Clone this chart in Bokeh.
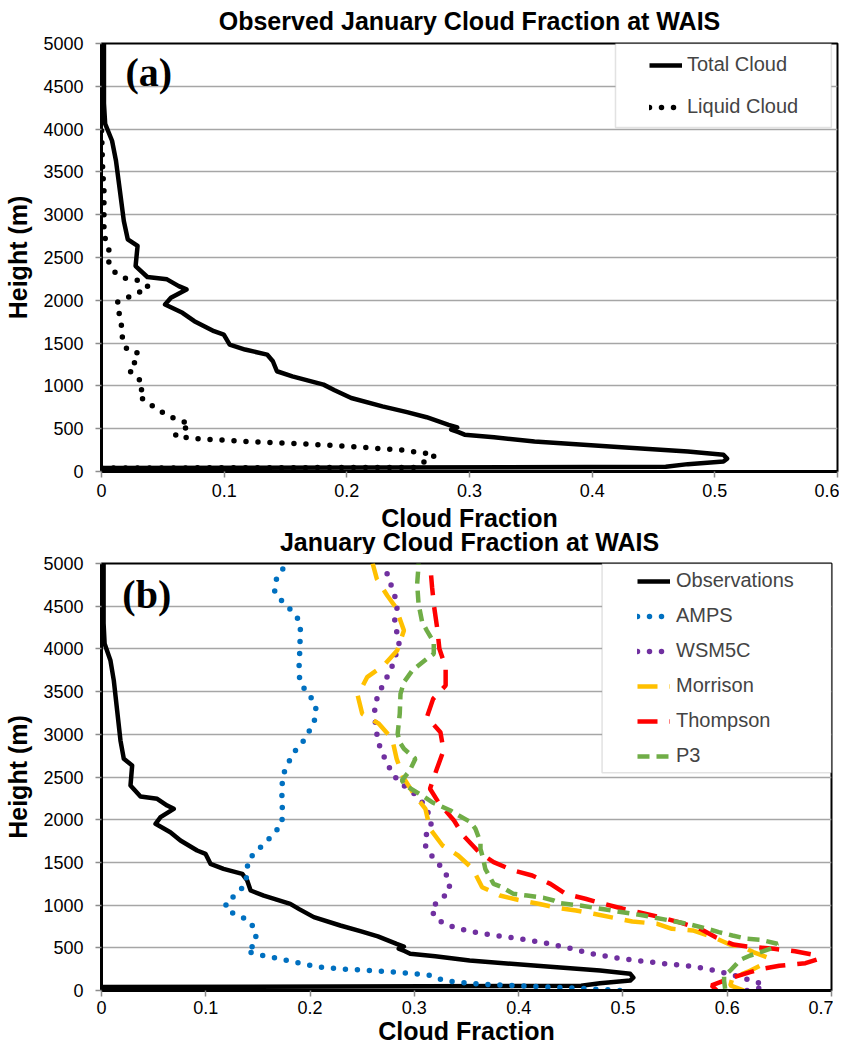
from bokeh.plotting import figure
from bokeh.layouts import column
from bokeh.models import (FixedTicker, Label, BoxAnnotation, CustomJSTickFormatter,
                          Legend, LegendItem, Title)
from bokeh.embed import file_html
from bokeh.resources import INLINE

# ---------------- data ----------------
title_a = "Observed January Cloud Fraction at WAIS"
title_b = "January Cloud Fraction at WAIS"
x_ticks_a = [0, 0.1, 0.2, 0.3, 0.4, 0.5, 0.6]
x_ticks_b = [0, 0.1, 0.2, 0.3, 0.4, 0.5, 0.6, 0.7]
y_ticks = [0, 500, 1000, 1500, 2000, 2500, 3000, 3500, 4000, 4500, 5000]

obs_h = [40, 55, 86, 117, 150, 195, 234, 293, 351, 400, 430, 460, 490, 515, 545,
         634, 693, 761, 859, 950, 1015, 1112, 1171, 1288, 1366, 1425, 1483, 1600,
         1639, 1756, 1854, 1952, 2030, 2127, 2166, 2245, 2272, 2400, 2635, 2713,
         2927, 3279, 3630, 3864, 4060, 4300, 4600, 5000]
obs_cf = [0.0, 0.46, 0.478, 0.507, 0.51, 0.507, 0.478, 0.4145, 0.353, 0.32, 0.296,
          0.291, 0.285, 0.29, 0.283, 0.265, 0.249, 0.229, 0.2036, 0.19, 0.181,
          0.1556, 0.143, 0.1397, 0.135, 0.117, 0.1045, 0.0997, 0.0917, 0.0757,
          0.066, 0.0518, 0.0566, 0.0693, 0.063, 0.0534, 0.0374, 0.0278, 0.0294,
          0.0214, 0.0182, 0.015, 0.0118, 0.0086, 0.003, 0.002, 0.002, 0.002]

liq_h = [40, 48, 100, 128, 199, 214, 250, 305, 350, 385, 395, 420, 500, 557, 604, 654,
         732, 810, 888, 1005, 1094, 1188, 1297, 1382, 1421, 1539, 1647, 1764, 1880,
         1978, 2036, 2095, 2153, 2231, 2258, 2328, 2445, 2601, 2722, 2854, 3300,
         3500, 4000, 5000]
liq_cf = [0.0, 0.255, 0.26, 0.268, 0.272, 0.263, 0.245, 0.19, 0.12, 0.075, 0.07, 0.06,
          0.068, 0.072, 0.062, 0.054, 0.045, 0.037, 0.030, 0.0345, 0.0296, 0.022,
          0.0285, 0.030, 0.021, 0.017, 0.017, 0.0155, 0.014, 0.0128, 0.022, 0.031,
          0.0386, 0.030, 0.0196, 0.011, 0.006, 0.006, 0.003, 0.002, 0.002, 0.001,
          0.0, 0.0]

amps_h = [0, 25, 39, 55, 67, 86, 117, 176, 203, 226, 250, 273, 301, 332, 359, 390,
          418, 460, 547, 691, 812, 878, 937, 1034, 1121, 1230, 1374, 1514, 1628,
          1729, 1835, 1952, 2096, 2245, 2400, 2549, 2685, 2810, 2927, 3056, 3200,
          3341, 3466, 3591, 3727, 3884, 4032, 4176, 4325, 4450, 4547, 4664, 4801,
          4938, 5000]
amps_cf = [0.497, 0.46, 0.43, 0.40, 0.376, 0.351, 0.328, 0.317, 0.293, 0.269, 0.233,
           0.209, 0.198, 0.186, 0.175, 0.163, 0.151, 0.139, 0.148, 0.148, 0.142,
           0.132, 0.120, 0.119, 0.129, 0.137, 0.140, 0.140, 0.148, 0.157, 0.165,
           0.173, 0.1735, 0.173, 0.173, 0.175, 0.180, 0.186, 0.194, 0.200, 0.2055,
           0.2055, 0.199, 0.191, 0.189, 0.190, 0.190, 0.191, 0.190, 0.182, 0.174,
           0.166, 0.167, 0.174, 0.176]

wsm_h = [0, 25, 78, 105, 156, 234, 283, 312, 342, 380, 425, 497, 554, 605, 624, 644,
         664, 692, 722, 769, 845, 968, 1062, 1167, 1304, 1435, 1548, 1668, 1795,
         1920, 2049, 2186, 2311, 2400, 2505, 2635, 2771, 2907, 3056, 3200, 3349,
         3493, 3622, 3759, 3895, 4032, 4176, 4325, 4489, 4633, 4770, 4910, 5000]
wsm_cf = [0.619, 0.630, 0.635, 0.625, 0.613, 0.589, 0.566, 0.542, 0.519, 0.495,
          0.472, 0.448, 0.426, 0.402, 0.39, 0.378, 0.366, 0.354, 0.343, 0.331,
          0.320, 0.316, 0.325, 0.334, 0.333, 0.3266, 0.3186, 0.311, 0.310, 0.3164,
          0.3145, 0.309, 0.2994, 0.2898, 0.281, 0.2749, 0.2697, 0.2653, 0.2634,
          0.262, 0.262, 0.2665, 0.2716, 0.2777, 0.281, 0.2857, 0.2835, 0.281,
          0.2835, 0.281, 0.277, 0.273, 0.271]

mor_h = [0, 59, 150, 220, 293, 390, 450, 515, 535, 624, 703, 722, 781, 808, 840, 898,
         937, 968, 1015, 1062, 1112, 1210, 1425, 1581, 1698, 1893, 2128, 2303, 2498,
         2713, 2947, 3123, 3240, 3454, 3669, 3806, 3981, 4215, 4489, 4625, 4820, 5000]
mor_cf = [0.616, 0.603, 0.605, 0.62, 0.632, 0.638, 0.625, 0.614, 0.603, 0.587,
          0.567, 0.547, 0.533, 0.509, 0.496, 0.472, 0.455, 0.437, 0.419, 0.399,
          0.382, 0.365, 0.356, 0.342, 0.327, 0.315, 0.3106, 0.2994, 0.2893, 0.283,
          0.2787, 0.266, 0.25, 0.2457, 0.2547, 0.2707, 0.2835, 0.290, 0.282, 0.274,
          0.264, 0.26]

tho_h = [0, 59, 156, 215, 250, 290, 320, 371, 420, 460, 488, 515, 538, 624, 722, 800,
         858, 917, 957, 1015, 1074, 1132, 1249, 1347, 1405, 1503, 1619, 1815, 1991,
         2205, 2362, 2576, 2810, 3025, 3200, 3415, 3571, 3786, 4001, 4235, 4489,
         4723, 4957, 5000]
tho_cf = [0.590, 0.585, 0.606, 0.622, 0.632, 0.650, 0.675, 0.688, 0.682, 0.665,
          0.645, 0.619, 0.606, 0.589, 0.574, 0.5535, 0.536, 0.515, 0.50, 0.4816,
          0.464, 0.445, 0.4305, 0.413, 0.395, 0.376, 0.362, 0.347, 0.338, 0.323,
          0.315, 0.321, 0.328, 0.325, 0.312, 0.318, 0.330, 0.330, 0.324, 0.322,
          0.319, 0.317, 0.3154, 0.315]

p3_h = [20, 117, 176, 234, 312, 359, 410, 449, 507, 547, 594, 605, 644, 683, 722,
        769, 796, 827, 851, 878, 898, 929, 945, 995, 1022, 1054, 1085, 1112, 1132,
        1210, 1249, 1425, 1542, 1659, 1737, 1893, 1971, 2049, 2108, 2205, 2283,
        2400, 2459, 2576, 2713, 2830, 2907, 3006, 3240, 3474, 3610, 3747, 3884,
        3942, 4079, 4215, 4313, 4528, 4762, 4977, 5000]
p3_cf = [0.598, 0.597, 0.597, 0.603, 0.609, 0.6126, 0.622, 0.632, 0.645, 0.648,
         0.632, 0.619, 0.605, 0.592, 0.581, 0.566, 0.555, 0.542, 0.531, 0.52,
         0.509, 0.493, 0.485, 0.459, 0.44, 0.4337, 0.424, 0.408, 0.395, 0.384,
         0.376, 0.368, 0.366, 0.3634, 0.3634, 0.3586, 0.354, 0.3426, 0.3346, 0.317,
         0.3075, 0.2915, 0.288, 0.2956, 0.301, 0.29, 0.286, 0.284, 0.286, 0.2867,
         0.290, 0.298, 0.312, 0.3186, 0.3186, 0.312, 0.3075, 0.304, 0.3027, 0.304,
         0.304]

FONT = "Liberation Sans"
fmt = CustomJSTickFormatter(code="return tick.toFixed(1).replace(/\\.0$/, '')")


def make_fig(xmax, xticks, fw, fh, top, bottom, lab_so, axlab_so):
    p = figure(frame_width=fw, frame_height=fh, x_range=(0, xmax), y_range=(0, 5000),
               output_backend="svg", toolbar_location=None,
               min_border_left=101, min_border_right=2, min_border_top=top,
               min_border_bottom=bottom)
    p.xgrid.visible = False
    p.ygrid.grid_line_color = "#a6a6a6"
    p.ygrid.grid_line_width = 1.5
    p.ygrid.ticker = FixedTicker(ticks=y_ticks)
    p.outline_line_color = "black"
    p.outline_line_width = 2
    p.outline_line_alpha = 1
    p.background_fill_color = "white"
    p.border_fill_color = "white"
    for ax, ticks in ((p.xaxis[0], xticks), (p.yaxis[0], y_ticks)):
        ax.ticker = FixedTicker(ticks=ticks)
        ax.axis_line_color = "black"
        ax.axis_line_width = 3
        ax.major_tick_line_color = "#8c8c8c"
        ax.major_tick_line_width = 1.5
        ax.major_tick_out = 6
        ax.major_tick_in = 0
        ax.minor_tick_line_color = None
        ax.major_label_text_font = FONT
        ax.major_label_text_font_size = "18px"
        ax.major_label_text_color = "black"
        ax.axis_label_text_font = FONT
        ax.axis_label_text_font_size = "25px"
        ax.axis_label_text_font_style = "bold"
        ax.axis_label_text_color = "black"
    p.xaxis[0].formatter = fmt
    p.xaxis[0].axis_label = "Cloud Fraction"
    p.xaxis[0].major_label_standoff = lab_so
    p.xaxis[0].axis_label_standoff = axlab_so
    p.yaxis[0].axis_label = "Height (m)"
    p.yaxis[0].major_label_standoff = 12
    p.yaxis[0].axis_label_standoff = 8
    return p


def make_title(text, standoff):
    return Title(text=text, align="center", vertical_align="top", text_font=FONT,
                 text_font_size="25px", text_font_style="bold", text_color="black",
                 standoff=standoff)


DOT = dict(line_dash="0 12", line_cap="round", line_width=5.5)

# ---------------- panel (a) ----------------
pa = make_fig(0.6, x_ticks_a, 736, 428, 43, 83, 6, 4)
pa.add_layout(make_title(title_a, 13), "above")
pa.add_layout(make_title(title_b, -14), "below")
pa.add_layout(BoxAnnotation(left=0.419, right=0.595, bottom=4019, top=5000,
                            fill_color="white", fill_alpha=1, line_color="#a0a0a0",
                            line_width=1.5))
ra1 = pa.line(obs_cf, obs_h, line_color="black", line_width=4.5, line_join="round")
ra2 = pa.line(liq_cf, liq_h, line_color="black", **DOT)
leg_a = Legend(items=[LegendItem(label="Total Cloud", renderers=[ra1]),
                      LegendItem(label="Liquid Cloud", renderers=[ra2])],
               location="top_right", margin=10, padding=10, border_line_color=None,
               background_fill_alpha=0, label_text_font=FONT,
               label_text_font_size="20px", label_width=140, glyph_width=33,
               glyph_height=20, label_height=20, spacing=19, label_standoff=5)
pa.add_layout(leg_a)
pa.add_layout(Label(x=0.0196, y=4660, text="(a)", text_font="Liberation Serif",
                    text_font_style="bold", text_font_size="40px", text_color="black",
                    text_baseline="middle", text_align="left"))

# ---------------- panel (b) ----------------
pb = make_fig(0.7, x_ticks_b, 730, 427, 9, 50, 4, 0)
pb.add_layout(BoxAnnotation(left=0.48, right=0.7, bottom=2550, top=5000,
                            fill_color="white", fill_alpha=1, line_color="#a0a0a0",
                            line_width=1.5))
rb1 = pb.line(obs_cf, obs_h, line_color="black", line_width=4.5, line_join="round")
rb2 = pb.line(amps_cf, amps_h, line_color="#0070C0", **DOT)
rb3 = pb.line(wsm_cf, wsm_h, line_color="#7030A0", **DOT)
rb4 = pb.line(mor_cf, mor_h, line_color="#FFC000", line_width=4.5, line_dash="20 12")
rb5 = pb.line(tho_cf, tho_h, line_color="#FF0000", line_width=4.5, line_dash="20 12")
rb6 = pb.line(p3_cf, p3_h, line_color="#70AD47", line_width=4.5, line_dash="12 7")
leg_b = Legend(items=[LegendItem(label="Observations", renderers=[rb1]),
                      LegendItem(label="AMPS", renderers=[rb2]),
                      LegendItem(label="WSM5C", renderers=[rb3]),
                      LegendItem(label="Morrison", renderers=[rb4]),
                      LegendItem(label="Thompson", renderers=[rb5]),
                      LegendItem(label="P3", renderers=[rb6])],
               location="top_right", margin=6, padding=8, border_line_color=None,
               background_fill_alpha=0, label_text_font=FONT,
               label_text_font_size="20px", label_width=149, glyph_width=33,
               glyph_height=20, label_height=20, spacing=12, label_standoff=6)
pb.add_layout(leg_b)
pb.add_layout(Label(x=0.020, y=4637, text="(b)", text_font="Liberation Serif",
                    text_font_style="bold", text_font_size="40px", text_color="black",
                    text_baseline="middle", text_align="left"))

layout = column(pa, pb)
open("out.html", "w").write(file_html(layout, INLINE))
